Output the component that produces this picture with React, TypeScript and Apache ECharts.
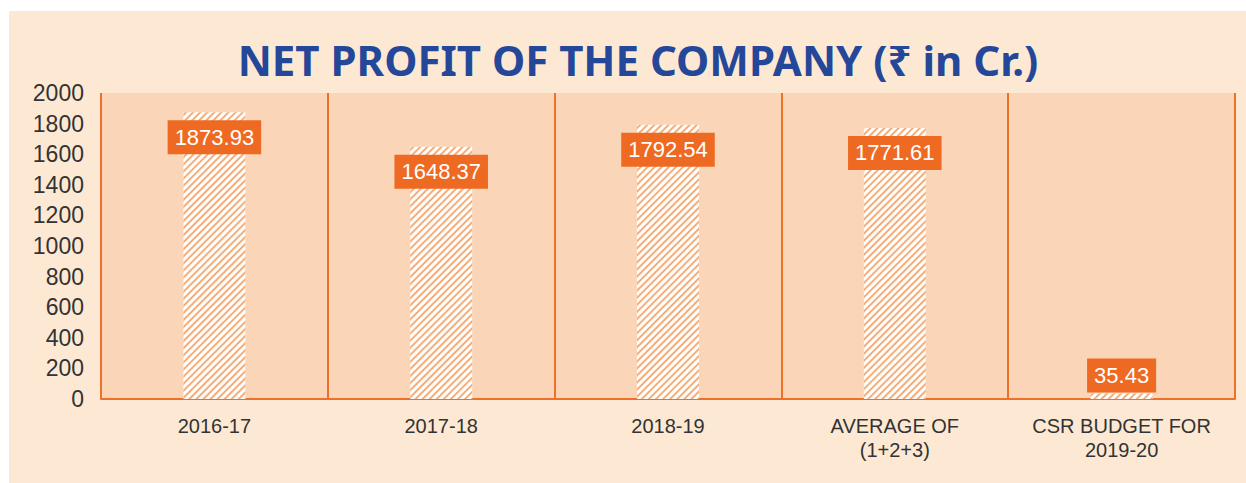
import React, { useEffect, useRef } from "react";
import * as echarts from "echarts";

const categories = ["2016-17", "2017-18", "2018-19", "AVERAGE OF\n(1+2+3)", "CSR BUDGET FOR\n2019-20"];
const values = [1873.93, 1648.37, 1792.54, 1771.61, 35.43];
const yTicks = { min: 0, max: 2000, interval: 200 };
const titleText = "NET PROFIT OF THE COMPANY (₹ in Cr.)";

export default function App() {
  const ref = useRef<HTMLDivElement>(null);
  useEffect(() => {
    if (!ref.current) return;
    const chart = echarts.init(ref.current, null, { renderer: "svg" });
    const orange = "#EE6A22";
    const lineOrange = "#EE7029";
    chart.setOption({
      animation: false,
      backgroundColor: "#FFFFFF",
      graphic: [
        {
          type: "rect",
          z: -10,
          silent: true,
          shape: { x: 9, y: 11, width: 1246 - 9, height: 483 - 11 },
          style: { fill: "#FDE9D3" },
        },
        {
          type: "text",
          x: 638,
          y: 59,
          style: {
            text: titleText,
            font: "bold 42px 'Noto Sans', 'DejaVu Sans', sans-serif",
            fill: "#25479A",
            textAlign: "center",
            textVerticalAlign: "middle",
          },
        },
      ],
      grid: {
        left: 101,
        top: 93,
        right: 11,
        bottom: 84,
        show: true,
        backgroundColor: "#FAD5B8",
        borderWidth: 0,
      },
      xAxis: {
        type: "category",
        data: categories,
        axisLine: { show: true, lineStyle: { color: lineOrange, width: 2 } },
        axisTick: { show: false },
        splitLine: { show: true, interval: 0, lineStyle: { color: lineOrange, width: 2 } },
        axisLabel: {
          interval: 0,
          margin: 15,
          color: "#333333",
          fontSize: 20,
          lineHeight: 24,
          fontFamily: "'Liberation Sans', Arial, sans-serif",
        },
      },
      yAxis: {
        type: "value",
        min: yTicks.min,
        max: yTicks.max,
        interval: yTicks.interval,
        axisLine: { show: false },
        axisTick: { show: false },
        splitLine: { show: false },
        axisLabel: {
          margin: 17,
          color: "#333333",
          fontSize: 23,
          formatter: (v: number) => String(v),
          fontFamily: "'Liberation Sans', Arial, sans-serif",
        },
      },
      series: [
        {
          type: "bar",
          barWidth: 62,
          data: values.map((v) => ({
            value: v,
            label: v < 200 ? { position: "top", distance: 1 } : { position: "insideTop", distance: 8 },
          })),
          itemStyle: {
            color: "#FFFFFF",
            decal: {
              symbol: "rect",
              color: "#F6AD78",
              dashArrayX: [1, 0],
              dashArrayY: [2, 3],
              rotation: -Math.PI / 4,
            },
          },
          label: {
            show: true,
            formatter: (p: any) => p.value.toFixed(2),
            color: "#FFFFFF",
            backgroundColor: orange,
            fontSize: 22,
            padding: [6, 7],
            fontFamily: "'Liberation Sans', Arial, sans-serif",
          },
        },
      ],
    });
    return () => chart.dispose();
  }, []);
  return <div ref={ref} style={{ position: "absolute", left: 0, top: 0, width: 1246, height: 483 }} />;
}
